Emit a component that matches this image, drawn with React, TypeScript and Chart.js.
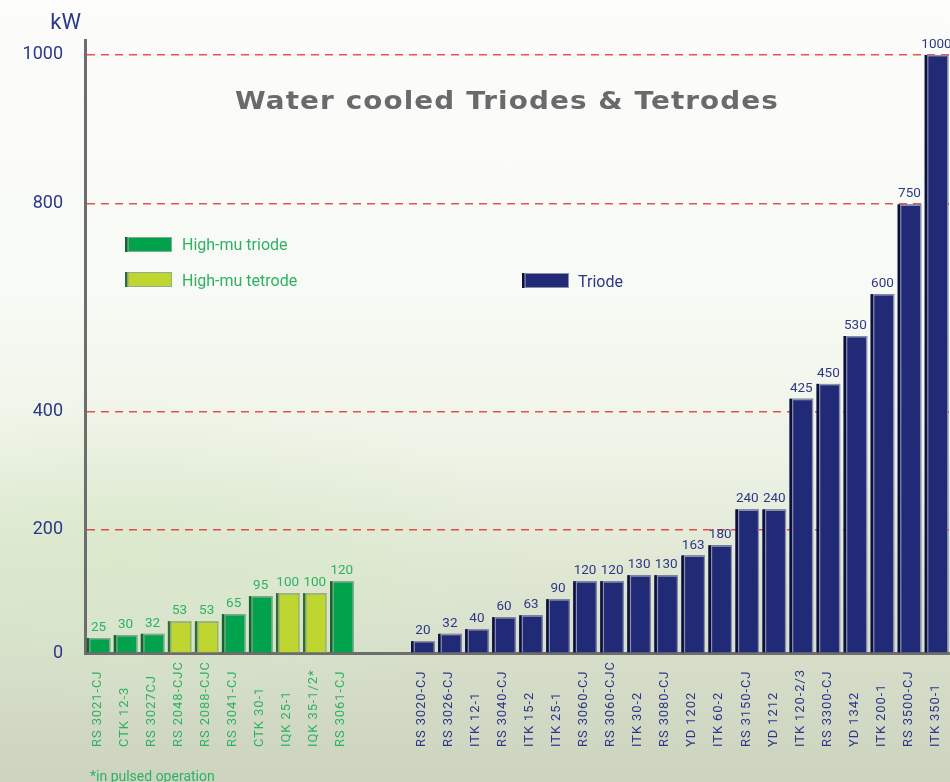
import React, { useEffect, useRef } from 'react';
import { Chart, registerables } from 'chart.js';

Chart.register(...registerables);

const leftNames = ['RS 3021-CJ', 'CTK 12-3', 'RS 3027CJ', 'RS 2048-CJC', 'RS 2088-CJC', 'RS 3041-CJ', 'CTK 30-1', 'IQK 25-1', 'IQK 35-1/2*', 'RS 3061-CJ'];
const leftValues = [25, 30, 32, 53, 53, 65, 95, 100, 100, 120];
const leftKinds = ['triode', 'triode', 'triode', 'tetrode', 'tetrode', 'triode', 'triode', 'tetrode', 'tetrode', 'triode'];
const rightNames = ['RS 3020-CJ', 'RS 3026-CJ', 'ITK 12-1', 'RS 3040-CJ', 'ITK 15-2', 'ITK 25-1', 'RS 3060-CJ', 'RS 3060-CJC', 'ITK 30-2', 'RS 3080-CJ', 'YD 1202', 'ITK 60-2', 'RS 3150-CJ', 'YD 1212', 'ITK 120-2/3', 'RS 3300-CJ', 'YD 1342', 'ITK 200-1', 'RS 3500-CJ', 'ITK 350-1'];
const rightValues = [20, 32, 40, 60, 63, 90, 120, 120, 130, 130, 163, 180, 240, 240, 425, 450, 530, 600, 750, 1000];
const gapCount = 2;
// grid lines as placed in the original (its axis is not evenly spaced)
const gridValues = [0, 206, 403, 751, 1000];
const gridLabels = ['0', '200', '400', '800', '1000'];
const yMax = 1025;
const titleText = 'Water cooled Triodes & Tetrodes';
const unitText = 'kW';
const footnoteText = '*in pulsed operation';

const GREEN = '#00a24b';
const LIME = '#bfd630';
const NAVY = '#212a76';
const GREEN_TEXT = '#2db262';
const NAVY_TEXT = '#2d3788';

const labels = [...leftNames, ...Array(gapCount).fill(''), ...rightNames];
const offsetRight = leftNames.length + gapCount;
const triodeHM = labels.map((_, i) => (i < leftNames.length && leftKinds[i] === 'triode' ? leftValues[i] : null));
const tetrodeHM = labels.map((_, i) => (i < leftNames.length && leftKinds[i] === 'tetrode' ? leftValues[i] : null));
const triodeData = labels.map((_, i) => (i >= offsetRight ? rightValues[i - offsetRight] : null));

const barDecor = {
  id: 'barDecor',
  afterDatasetsDraw(chart: any) {
    const ctx = chart.ctx;
    chart.data.datasets.forEach((ds: any, di: number) => {
      const meta = chart.getDatasetMeta(di);
      meta.data.forEach((bar: any, i: number) => {
        const v = ds.data[i];
        if (v == null) return;
        const { x, y, base, width } = bar.getProps(['x', 'y', 'base', 'width'], true);
        const left = x - width / 2;
        const h = base - y;
        ctx.save();
        ctx.fillStyle = ds.edgeLight;
        ctx.fillRect(left, y, width, 1.5);
        ctx.fillRect(left + width - 1.2, y, 1.2, h);
        ctx.fillStyle = ds.edgeDark;
        ctx.fillRect(left, y, 2.5, h);
        ctx.fillStyle = ds.edgeLight;
        ctx.fillRect(left + 2.5, y, 1.2, h);
        ctx.font = '13.5px Roboto';
        ctx.textAlign = 'center';
        ctx.textBaseline = 'alphabetic';
        ctx.fillStyle = ds.textColor;
        ctx.fillText(String(v), x, y - 7);
        ctx.restore();
      });
    });
  },
};

const extras = {
  id: 'extras',
  afterDraw(chart: any) {
    const ctx = chart.ctx;
    const xs = chart.scales.x;
    ctx.save();
    // category labels, rotated, bottom-aligned
    ctx.font = '13px Roboto';
    (ctx as any).letterSpacing = '0.9px';
    ctx.textBaseline = 'middle';
    ctx.textAlign = 'left';
    labels.forEach((lab, i) => {
      if (!lab) return;
      const px = xs.getPixelForValue(i);
      ctx.save();
      ctx.translate(px - 1, 747);
      ctx.rotate(-Math.PI / 2);
      ctx.fillStyle = i < leftNames.length ? GREEN_TEXT : NAVY_TEXT;
      ctx.fillText(lab, 0, 0);
      ctx.restore();
    });
    (ctx as any).letterSpacing = '0px';

    // title, stretched horizontally like an extended face
    ctx.font = 'bold 25px "DejaVu Sans"';
    ctx.fillStyle = '#6a6a6a';
    ctx.textAlign = 'left';
    ctx.textBaseline = 'alphabetic';
    (ctx as any).letterSpacing = '1px';
    const w = ctx.measureText(titleText).width;
    const sx = 544 / w;
    ctx.save();
    ctx.translate(235, 109);
    ctx.scale(sx, 1);
    ctx.fillText(titleText, 0, 0);
    ctx.restore();
    (ctx as any).letterSpacing = '0px';

    // unit
    ctx.font = '22px Roboto';
    ctx.fillStyle = NAVY_TEXT;
    ctx.textAlign = 'right';
    ctx.fillText(unitText, 81, 29);

    // footnote
    ctx.font = '14px Roboto';
    ctx.fillStyle = GREEN_TEXT;
    ctx.textAlign = 'left';
    ctx.fillText(footnoteText, 90, 781);

    // legend
    const spots = [
      { bx: 125, by: 237, tx: 182, ty: 250 },
      { bx: 125, by: 272, tx: 182, ty: 286 },
      { bx: 522, by: 273, tx: 578, ty: 287 },
    ];
    chart.data.datasets.forEach((ds: any, di: number) => {
      const s = spots[di];
      ctx.fillStyle = ds.backgroundColor;
      ctx.fillRect(s.bx, s.by, 47, 15);
      ctx.strokeStyle = ds.edgeLight;
      ctx.lineWidth = 1;
      ctx.strokeRect(s.bx + 0.5, s.by + 0.5, 46, 14);
      ctx.fillStyle = ds.edgeDark;
      ctx.fillRect(s.bx, s.by, 2.5, 15);
      ctx.fillStyle = ds.edgeLight;
      ctx.fillRect(s.bx + 2.5, s.by, 1.2, 15);
      ctx.font = '16px Roboto';
      ctx.fillStyle = ds.textColor;
      ctx.textAlign = 'left';
      ctx.fillText(ds.label, s.tx, s.ty);
    });
    ctx.restore();
  },
};

export default function App() {
  const ref = useRef<HTMLCanvasElement>(null);
  useEffect(() => {
    if (!ref.current) return;
    const chart = new Chart(ref.current, {
      type: 'bar',
      data: {
        labels,
        datasets: [
          { label: 'High-mu triode', data: triodeHM, backgroundColor: GREEN, edgeDark: '#17612f', edgeLight: '#86a98f', textColor: GREEN_TEXT } as any,
          { label: 'High-mu tetrode', data: tetrodeHM, backgroundColor: LIME, edgeDark: '#2e6a3a', edgeLight: '#8fae8a', textColor: GREEN_TEXT } as any,
          { label: 'Triode', data: triodeData, backgroundColor: NAVY, edgeDark: '#0b0f3c', edgeLight: '#8a8fab', textColor: NAVY_TEXT } as any,
        ],
      },
      options: {
        responsive: false,
        animation: false,
        layout: { padding: { top: 40, right: 0, left: 0, bottom: 0 } },
        datasets: { bar: { barPercentage: 0.87, categoryPercentage: 1 } },
        plugins: { legend: { display: false }, tooltip: { enabled: false }, title: { display: false } },
        scales: {
          x: {
            stacked: true,
            grid: { display: false },
            border: { display: true, color: '#6d6d6d', width: 3 },
            ticks: { display: false },
            afterFit: (s: any) => { s.height = 129; },
          },
          y: {
            stacked: true,
            min: 0,
            max: yMax,
            afterBuildTicks: (s: any) => { s.ticks = gridValues.map((v) => ({ value: v })); },
            afterFit: (s: any) => { s.width = 85; },
            ticks: {
              callback: (_v: any, i: number) => gridLabels[i],
              color: NAVY_TEXT,
              font: { family: 'Roboto', size: 18 },
              padding: 22,
            },
            grid: {
              drawTicks: false,
              color: (c: any) => (c.tick && c.tick.value === 0 ? 'rgba(0,0,0,0)' : 'rgba(236,48,48,0.85)'),
              lineWidth: 1.5,
            },
            border: { display: true, color: '#6d6d6d', width: 3, dash: [8, 6] },
          },
        },
      } as any,
      plugins: [barDecor, extras],
    });
    return () => chart.destroy();
  }, []);

  return (
    <div
      style={{
        position: 'absolute',
        left: 0,
        top: 0,
        width: 950,
        height: 782,
        overflow: 'hidden',
        background:
          'radial-gradient(ellipse 420px 160px at 120px 560px, rgba(215,232,200,0.7), rgba(215,232,200,0)), linear-gradient(180deg, #fcfdfb 0%, #f8faf5 38%, #eef3e6 58%, #e0e8d4 72%, #d5ddc9 86%, #ccd4c0 100%)',
      }}
    >
      <canvas ref={ref} width={950} height={782} />
    </div>
  );
}
